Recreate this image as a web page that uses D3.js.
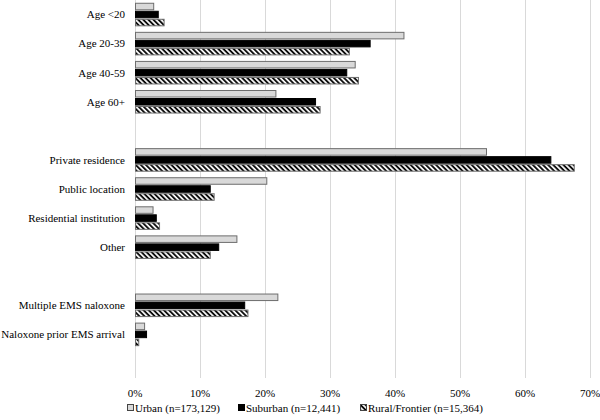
<!DOCTYPE html>
<html><head><meta charset="utf-8">
<script src="https://cdn.jsdelivr.net/npm/d3@7"></script>
<style>body{margin:0;background:#fff}svg{display:block}
svg text{font-family:"Liberation Serif","Times New Roman",Times,"DejaVu Serif",serif;}</style>
</head><body>
<svg id="c" width="600" height="420"></svg>
<script>
const categories = ["Age <20","Age 20-39","Age 40-59","Age 60+","",
  "Private residence","Public location","Residential institution","Other"," ",
  "Multiple EMS naloxone","Naloxone prior EMS arrival","  "];
const seriesNames = ["Urban (n=173,129)","Suburban (n=12,441)","Rural/Frontier (n=15,364)"];
const urban =    [2.8,41.3,33.8,21.6,null,54.0,20.2,2.7,15.6,null,21.9,1.4,null];
const suburban = [3.5,36.1,32.5,27.7,null,63.9,11.5,3.2,12.8,null,16.8,1.7,null];
const rural =    [4.4,32.9,34.3,28.4,null,67.5,12.1,3.7,11.5,null,17.3,0.5,null];
const xTicks = [0,10,20,30,40,50,60,70];

const svg = d3.select("#c");
const defs = svg.append("defs");
const pat = defs.append("pattern").attr("id","hatch").attr("patternUnits","userSpaceOnUse")
  .attr("width",3.6).attr("height",3.6).attr("patternTransform","rotate(-45)");
pat.append("rect").attr("width",3.6).attr("height",3.6).attr("fill","#fff");
pat.append("line").attr("x1",1).attr("y1",0).attr("x2",1).attr("y2",3.6)
  .attr("stroke","#000").attr("stroke-width",1.8);

const x = d3.scaleLinear().domain([0,70]).range([135,590]);
const y = d3.scaleBand().domain(categories).range([0,378]);
const inner = d3.scaleBand().domain([0,1,2]).range([y.bandwidth()*0.095, y.bandwidth()*0.905]).paddingInner(0.06);

// grid
svg.append("g").selectAll("line").data(xTicks).join("line")
  .attr("x1",d=>x(d)+0.5).attr("x2",d=>x(d)+0.5).attr("y1",0).attr("y2",378)
  .attr("stroke","#d9d9d9").attr("stroke-width",1);

const styles = [
  {fill:"#d9d9d9", stroke:"#6d6d6d"},
  {fill:"#000", stroke:"#000"},
  {fill:"url(#hatch)", stroke:"#6d6d6d"}
];
const data = [urban,suburban,rural];
data.forEach((arr,si)=>{
  svg.append("g").selectAll("rect").data(categories.map((c,i)=>({c,v:arr[i]})).filter(d=>d.v!=null))
    .join("rect")
    .attr("x",x(0)+0.5).attr("y",d=>y(d.c)+inner(si)+0.5)
    .attr("width",d=>x(d.v)-x(0)).attr("height",inner.bandwidth()-1)
    .attr("fill",styles[si].fill).attr("stroke",styles[si].stroke).attr("stroke-width",1);
});

// category labels
svg.append("g").selectAll("text").data(categories.filter(c=>c.trim()!=="")).join("text")
  .attr("x",125).attr("y",d=>y(d)+y.bandwidth()/2).attr("dy","0.35em")
  .attr("text-anchor","end").attr("font-size",11).attr("fill","#000")
  .text(d=>d);

// x tick labels
svg.append("g").selectAll("text").data(xTicks).join("text")
  .attr("x",d=>x(d)).attr("y",393).attr("dy","0.35em").attr("text-anchor","middle")
  .attr("font-size",11).attr("fill","#000")
  .text(d=>d3.format(".0%")(d/100));

// legend
const legX = [127,238,360];
const lg = svg.append("g");
seriesNames.forEach((n,i)=>{
  lg.append("rect").attr("x",legX[i]+0.5).attr("y",404.5).attr("width",6).attr("height",6)
    .attr("fill",styles[i].fill).attr("stroke",i===1?"#000":"#444").attr("stroke-width",1);
  lg.append("text").attr("x",legX[i]+8).attr("y",408).attr("dy","0.35em")
    .attr("font-size",11).attr("fill","#000").text(n);
});
</script>
</body></html>
